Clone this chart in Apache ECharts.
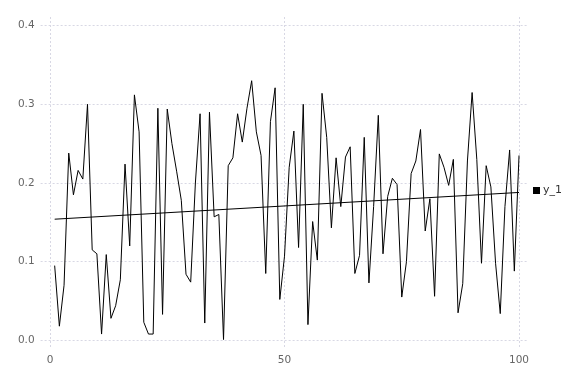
<!DOCTYPE html>
<html>
<head>
<meta charset="utf-8">
<script src="https://cdn.jsdelivr.net/npm/echarts@6/dist/echarts.min.js"></script>
<style>html,body{margin:0;padding:0;background:#fff}#c{width:576px;height:384px}</style>
</head>
<body>
<div id="c"></div>
<script>
const xValues = Array.from({length: 100}, (_, i) => i + 1);
const y1 = [0.095,0.018,0.070,0.238,0.185,0.216,0.205,0.300,0.115,0.110,
            0.008,0.109,0.028,0.044,0.077,0.224,0.120,0.312,0.265,0.023,
            0.008,0.008,0.295,0.033,0.294,0.250,0.215,0.178,0.084,0.074,
            0.200,0.288,0.022,0.290,0.157,0.160,0.001,0.222,0.232,0.288,
            0.252,0.295,0.330,0.265,0.235,0.085,0.278,0.321,0.052,0.107,
            0.220,0.266,0.118,0.300,0.020,0.151,0.102,0.314,0.258,0.143,
            0.232,0.170,0.233,0.246,0.085,0.108,0.258,0.073,0.170,0.286,
            0.110,0.183,0.206,0.198,0.055,0.100,0.212,0.228,0.268,0.139,
            0.180,0.056,0.237,0.220,0.197,0.230,0.035,0.072,0.228,0.315,
            0.230,0.098,0.222,0.195,0.098,0.034,0.170,0.242,0.088,0.235];
const trendX = [1, 100];
const trendY = [0.154, 0.188];
const xTicks = [0, 50, 100];
const yTicks = [0, 0.1, 0.2, 0.3, 0.4];
const seriesName = 'y_1';

const chart = echarts.init(document.getElementById('c'), null, {renderer: 'canvas'});
const font = 'DejaVu Sans';
const gridLine = {show: true, lineStyle: {color: '#d8d8e4', type: [2, 2], width: 1}};
chart.setOption({
  animation: false,
  backgroundColor: '#ffffff',
  grid: {left: 40.6, right: 47.6, top: 17, bottom: 35, containLabel: false},
  legend: {
    data: [seriesName],
    orient: 'vertical',
    left: 528, top: 180,
    icon: 'rect', itemWidth: 7, itemHeight: 7, itemGap: 4,
    textStyle: {fontFamily: font, fontSize: 11, color: '#333', padding: [0, 0, 0, -2]}
  },
  xAxis: {
    type: 'value', min: -2, max: 102,
    axisLine: {show: false},
    axisTick: {show: false, customValues: xTicks},
    axisLabel: {customValues: xTicks, fontFamily: font, fontSize: 10.5, color: '#666', margin: 6},
    splitLine: gridLine
  },
  yAxis: {
    type: 'value', min: -0.011, max: 0.411,
    axisLine: {show: false},
    axisTick: {show: false, customValues: yTicks},
    axisLabel: {customValues: yTicks, fontFamily: font, fontSize: 10.5, color: '#666', margin: 6,
      formatter: v => v.toFixed(1)},
    splitLine: gridLine
  },
  series: [
    {
      name: seriesName, type: 'line', showSymbol: false, symbol: 'none',
      data: xValues.map((x, i) => [x, y1[i]]),
      lineStyle: {color: '#000', width: 1},
      itemStyle: {color: '#000'}
    },
    {
      name: 'trend', type: 'line', showSymbol: false, symbol: 'none',
      data: trendX.map((x, i) => [x, trendY[i]]),
      lineStyle: {color: '#000', width: 1},
      itemStyle: {color: '#000'}
    }
  ]
});
</script>
</body>
</html>
